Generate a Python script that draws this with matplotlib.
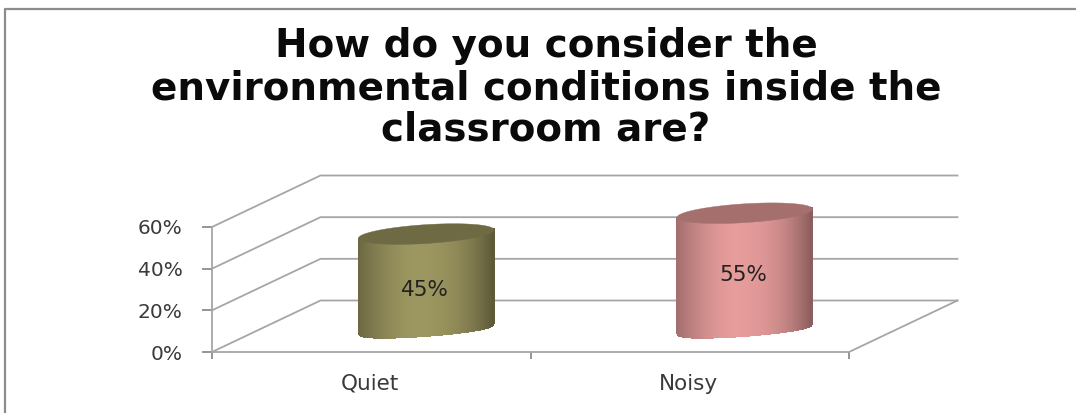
import numpy as np
import matplotlib
matplotlib.use("Agg")
import matplotlib.pyplot as plt
from matplotlib.patches import Polygon
from matplotlib.transforms import IdentityTransform
from matplotlib.colors import to_rgb

title = "How do you consider the\nenvironmental conditions inside the\nclassroom are?"
categories = ["Quiet", "Noisy"]
values = [0.45, 0.55]
labels = ["45%", "55%"]
yticks = [0.0, 0.2, 0.4, 0.6]
yticklabels = ["0%", "20%", "40%", "60%"]
bar_mid = ["#9c9660", "#e59c9b"]
bar_edge = ["#5c5838", "#8a5d5c"]
bar_top = ["#6e6a44", "#a56f6e"]

W, H = 1076, 413
fig = plt.figure(figsize=(W / 100, H / 100), dpi=100, facecolor="white")
L, R, B, T = 212, 849, 352, 227
ax = fig.add_axes([L / W, 1 - B / H, (R - L) / W, (B - T) / H])
ax.set_xlim(-0.5, 1.5)
ax.set_ylim(0, 0.6)
ax.patch.set_visible(False)
for s in ["top", "right"]:
    ax.spines[s].set_visible(False)
grey = "#a6a6a6"
for s in ["left", "bottom"]:
    ax.spines[s].set_color(grey)
    ax.spines[s].set_linewidth(1.3)
ax.set_xticks([-0.5, 0.5, 1.5])
ax.set_xticklabels([])
ax.set_yticks(yticks)
ax.set_yticklabels(yticklabels, fontsize=14.5, color="#3a3a3a", family="DejaVu Sans")
ax.tick_params(axis="y", length=7, color="#8c8c8c", width=1.3, pad=14)
ax.tick_params(axis="x", length=5, color="#8c8c8c", width=1.3)
for i, c in enumerate(categories):
    ax.annotate(c, (i, 0), xytext=(-1, -32), textcoords="offset pixels", ha="center",
                va="center", fontsize=15.5, color="#3a3a3a", annotation_clip=False)

# depth of the 3-D box, in pixels (x right, y up)
DX, DY = 108.5, 51.5
to_px = ax.transData.transform
for v in yticks:
    x0, y0 = to_px((-0.5, v))
    x1, y1 = to_px((1.5, v))
    ax.add_line(plt.Line2D([x0, x0 + DX, x1 + DX], [y0, y0 + DY, y1 + DY], transform=IdentityTransform(),
                           color=grey, lw=1.3, clip_on=False, zorder=1))
x1, y1 = to_px((1.5, 0))
ax.add_line(plt.Line2D([x1, x1 + DX], [y1, y1 + DY], transform=IdentityTransform(), color=grey, lw=1.3,
                       clip_on=False, zorder=1))

# cylinders
F = 0.47
XSHIFT = 4
UX, UY = 67.5, 5
VX, VY = -6, 9
PEAK = -0.15
t = np.linspace(0, 2 * np.pi, 200)
N = 135
for i, v in enumerate(values):
    cx, cb = to_px((i, 0))
    cx += DX * F + XSHIFT
    cb += DY * F
    _, ct = to_px((i, v))
    ct += DY * F
    mid, edge = np.array(to_rgb(bar_mid[i])), np.array(to_rgb(bar_edge[i]))
    ss = np.linspace(-1, 1, N + 1)
    for a, b in zip(ss[:-1], ss[1:]):
        s = (a + b) / 2
        if s < PEAK:
            f = 0.75 * ((PEAK - s) / (1 + PEAK)) ** 1.6
        else:
            f = ((s - PEAK) / (1 - PEAK)) ** 2.4
        col = mid * (1 - f) + edge * f
        pts = []
        for q in (a, b):
            th = np.sqrt(max(0, 1 - q * q)) ** 0.7
            pts.append((cx + UX * q, cb + UY * q - 8 * th))
        for q in (b, a):
            pts.append((cx + UX * q, ct + UY * q))
        ax.add_patch(Polygon(pts, closed=True, facecolor=col, edgecolor=col, lw=0.8, antialiased=False,
                             transform=IdentityTransform(), clip_on=False, zorder=3))
    ell = np.c_[cx + UX * np.cos(t) + VX * np.sin(t), ct + UY * np.cos(t) + VY * np.sin(t)]
    ax.add_patch(Polygon(ell, closed=True, facecolor=bar_top[i], edgecolor=bar_top[i], lw=0.3,
                         transform=IdentityTransform(), clip_on=False, zorder=4))
    ax.text(cx - 1, (cb + ct) / 2 - 9 + 5 * i, labels[i], transform=IdentityTransform(), ha="center", va="center",
            fontsize=15.5, color="#222222", zorder=5)

fig.text(546 / W, 1 - 88 / H, title, ha="center", va="center", fontsize=28, fontweight="bold",
         color="#0a0a0a", linespacing=1.12)
fig.add_artist(plt.Line2D([5 / W, 5 / W, 1], [0, 1 - 9 / H, 1 - 9 / H], transform=fig.transFigure,
                          color="#8c8c8c", lw=1.6))
fig.savefig("out.png", dpi=100)
